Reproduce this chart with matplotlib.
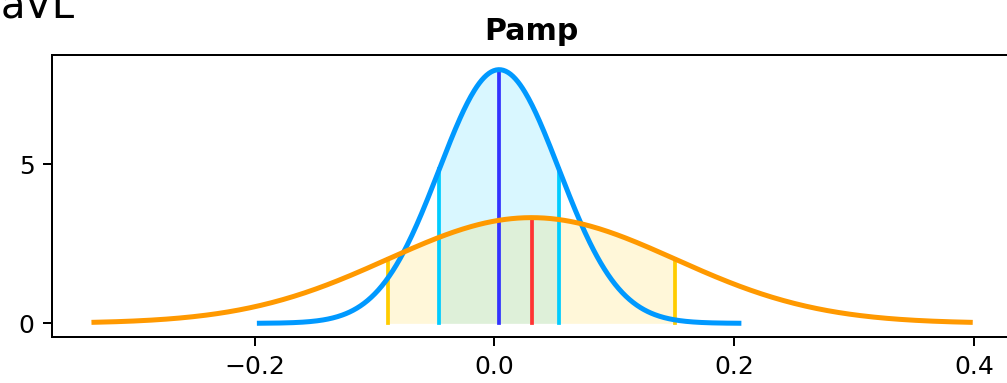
import numpy as np
import matplotlib.pyplot as plt

# two normal distributions: (mean, sd, x start, x end)
blue_mean, blue_sd = 0.004, 0.05
blue_span = (-0.196, 0.204)
orange_mean, orange_sd = 0.031, 0.12
orange_span = (-0.334, 0.397)

yticks = [0, 5]
xticks = [-0.2, 0.0, 0.2, 0.4]


def normal_pdf(x, mu, sd):
    return np.exp(-0.5 * ((x - mu) / sd) ** 2) / (sd * np.sqrt(2 * np.pi))


fig = plt.figure(figsize=(1008 / 180, 383 / 180), dpi=180)
ax = fig.add_axes([52 / 1008, 46 / 383, 959 / 1008, 282 / 383])

curves = [
    (blue_mean, blue_sd, blue_span, "#0099ff", "#00ccff", "#3333ff"),
    (orange_mean, orange_sd, orange_span, "#ff9900", "#ffcc00", "#ff3333"),
]

for mu, sd, span, c_line, c_sd, c_mean in curves:
    xs = np.linspace(mu - sd, mu + sd, 200)
    ax.fill_between(xs, 0, normal_pdf(xs, mu, sd), color=c_sd, alpha=0.15, lw=0)
    for xv in (mu - sd, mu + sd):
        ax.plot([xv, xv], [0, normal_pdf(xv, mu, sd)], color=c_sd, lw=1.5)
    ax.plot([mu, mu], [0, normal_pdf(mu, mu, sd)], color=c_mean, lw=1.5)

for mu, sd, span, c_line, c_sd, c_mean in curves:
    x = np.linspace(span[0], span[1], 400)
    ax.plot(x, normal_pdf(x, mu, sd), color=c_line, lw=2)

ax.set_xlim(-0.369, 0.431)
ax.set_ylim(-0.43, 8.44)
ax.set_xticks(xticks)
ax.set_yticks(yticks)
ax.set_title("Pamp", fontweight="bold")
fig.text(1 / 1008, 1 - 17 / 383, "aVL", fontsize=16, va="baseline", ha="left")

fig.savefig("out.png", dpi=180)
